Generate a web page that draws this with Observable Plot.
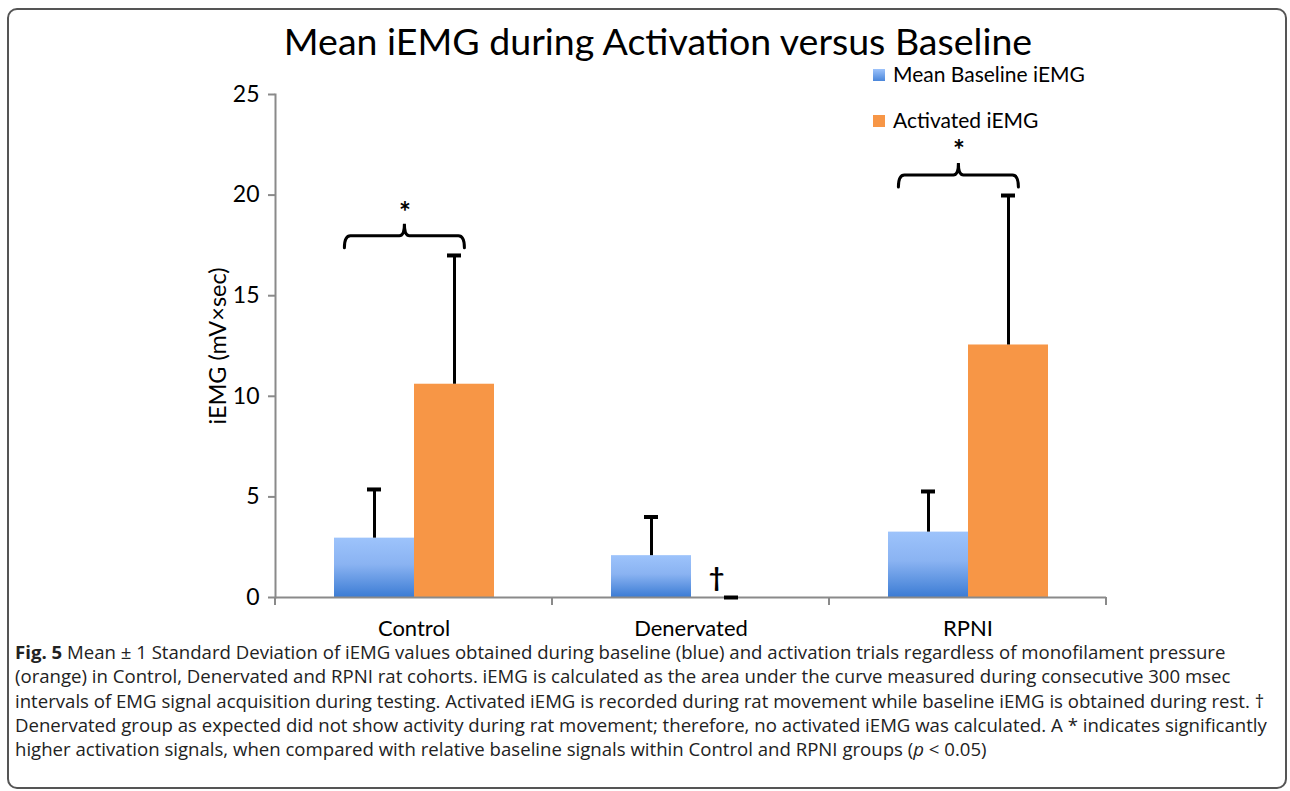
<!DOCTYPE html>
<html>
<head>
<meta charset="utf-8">
<script src="https://cdn.jsdelivr.net/npm/d3@7"></script>
<script src="https://cdn.jsdelivr.net/npm/@observablehq/plot@0.6"></script>
<style>
  html, body { margin: 0; padding: 0; background: #fff; }
  #fig { position: relative; width: 1290px; height: 791px; overflow: hidden; font-family: Lato, "Open Sans", sans-serif; }
  #box { position: absolute; left: 7px; top: 8px; width: 1276px; height: 777px; border: 2px solid #555; border-radius: 10px; }
  #title { position: absolute; left: 0; top: 18px; width: 1316px; text-align: center; font-size: 37.5px; color: #000; white-space: nowrap; }
  #legend { position: absolute; left: 873px; top: 63px; font-size: 21px; color: #000; }
  .li { position: relative; height: 46px; white-space: nowrap; }
  .sw { position: absolute; left: 0; top: 6px; width: 12px; height: 12px; }
  .lt { position: absolute; left: 20px; top: -1px; line-height: 24px; }
  #chart { position: absolute; left: 0; top: 0; }
  #caption { position: absolute; left: 15px; top: 640px; font-family: "Open Sans", sans-serif; font-size: 18.6px; line-height: 24.3px; color: #222; white-space: nowrap; }
</style>
</head>
<body>
<div id="fig">
  <div id="box"></div>
  <div id="chart"></div>
  <div id="title"></div>
  <div id="legend"></div>
  <div id="caption"></div>
</div>
<script>
const titleText = "Mean iEMG during Activation versus Baseline";
const groups = ["Control", "Denervated", "RPNI"];
const series = ["Mean Baseline iEMG", "Activated iEMG"];
const seriesColors = ["url(#blueGrad)", "#F79646"];
const baselineMean = [2.95, 2.08, 3.25];
const baselineSD = [2.42, 1.92, 2.02];
const activatedMean = [10.6, 0, 12.55];
const activatedSD = [6.4, 0, 7.43];
const yTicks = [0, 5, 10, 15, 20, 25];
const yLabel = "iEMG (mV×sec)";
const bracketGroups = ["Control", "RPNI"];
const bracketY = [17.95, 20.97];
const starY = [19.1, 22.2];
const daggerGroup = "Denervated";
const daggerY = 0.95;
const captionLines = [
  "<b>Fig. 5</b> Mean ± 1 Standard Deviation of iEMG values obtained during baseline (blue) and activation trials regardless of monofilament pressure",
  "(orange) in Control, Denervated and RPNI rat cohorts. iEMG is calculated as the area under the curve measured during consecutive 300 msec",
  "intervals of EMG signal acquisition during testing. Activated iEMG is recorded during rat movement while baseline iEMG is obtained during rest. †",
  "Denervated group as expected did not show activity during rat movement; therefore, no activated iEMG was calculated. A * indicates significantly",
  "higher activation signals, when compared with relative baseline signals within Control and RPNI groups (<i>p</i> &lt; 0.05)"
];

const data = [];
groups.forEach((g, i) => {
  data.push({group: g, series: series[0], value: baselineMean[i], sd: baselineSD[i]});
  data.push({group: g, series: series[1], value: activatedMean[i], sd: activatedSD[i]});
});
const brackets = bracketGroups.map((g, i) => ({group: g, y: bracketY[i], star: starY[i]}));

function bandwidthOf(x) { return typeof x.bandwidth === "function" ? x.bandwidth() : 80; }

function bracketRender(index, scales, values) {
  const x = scales.x;
  const bw = bandwidthOf(x);
  const g = d3.create("svg:g");
  for (const i of index) {
    const y0 = values.y[i];
    const x0 = x(series[0]) + 0.13 * bw;
    const x1 = x(series[1]) + 0.63 * bw;
    const xm = (x0 + x1) / 2;
    const r = 6, h = 12, t = 12;
    const p = `M${x0},${y0 + h} Q${x0},${y0} ${x0 + r},${y0} L${xm - 5},${y0} Q${xm},${y0} ${xm},${y0 - t} Q${xm},${y0} ${xm + 5},${y0} L${x1 - r},${y0} Q${x1},${y0} ${x1},${y0 + h}`;
    g.append("path").attr("d", p).attr("fill", "none").attr("stroke", "#000").attr("stroke-width", 3).attr("stroke-linecap", "round");
  }
  return g.node();
}

// category boundary tick marks under the x axis line
function boundaryTicks(index, scales, values) {
  const x = scales.x;
  const g = d3.create("svg:g");
  const r = typeof x.range === "function" ? x.range() : null;
  if (!r) return g.node();
  for (const i of index) {
    const y0 = values.y[i];
    for (const xe of r) {
      g.append("line").attr("x1", xe).attr("x2", xe).attr("y1", y0).attr("y2", y0 + 8)
        .attr("stroke", "#8a8a8a").attr("stroke-width", 2);
    }
  }
  return g.node();
}

const chart = Plot.plot({
  width: 1290,
  height: 660,
  marginTop: 94,
  marginBottom: 63,
  marginLeft: 275,
  marginRight: 184,
  style: {fontFamily: "Lato, 'Open Sans', sans-serif", color: "#000", background: "transparent", overflow: "visible"},
  fx: {domain: groups, padding: 0, label: null},
  x: {domain: series, paddingInner: 0, paddingOuter: 0.731, axis: null},
  y: {domain: [0, 25], axis: null},
  color: {domain: series, range: seriesColors},
  marks: [
    Plot.axisFx({anchor: "bottom", fontSize: 22, tickSize: 0, tickPadding: 23, label: null, fill: "#000"}),
    Plot.axisY({ticks: yTicks, tickSize: 7, tickPadding: 9, fontSize: 23, stroke: "#8a8a8a", strokeWidth: 2, fill: "#000",
      label: yLabel, labelAnchor: "center", labelArrow: "none", labelOffset: 66, tickFormat: d => String(d)}),
    Plot.frame({anchor: "left", facetAnchor: "left", stroke: "#8a8a8a", strokeWidth: 2}),
    Plot.barY(data, {fx: "group", x: "series", y: "value", fill: "series"}),
    Plot.ruleY([0], {stroke: "#8a8a8a", strokeWidth: 2}),
    Plot.ruleY([0], {stroke: "#8a8a8a", render: boundaryTicks}),
    Plot.ruleX(data, {fx: "group", x: "series", y1: "value", y2: d => d.value + d.sd, stroke: "#000", strokeWidth: 3}),
    Plot.tickY(data, {fx: "group", x: "series", y: d => d.value + d.sd, stroke: "#000", strokeWidth: 4, insetLeft: 33, insetRight: 33}),
    Plot.ruleY(brackets, {fx: "group", y: "y", stroke: "#000", strokeWidth: 3, render: bracketRender}),
    Plot.text(brackets, {fx: "group", y: "star", text: () => "*", dx: -9, fontSize: 28, fontWeight: "bold", fill: "#000"}),
    Plot.text([{group: daggerGroup, series: series[1], y: daggerY}], {fx: "group", x: "series", y: "y", text: () => "†", dx: -15, fontSize: 27, fontWeight: "bold", fill: "#000"})
  ]
});

const svg = d3.select(chart.tagName.toLowerCase() === "svg" ? chart : chart.querySelector("svg"));
svg.selectAll('[aria-label="y-axis label"]').attr("font-size", 23.5).selectAll("text").style("font-size", "23.5px");
const defs = svg.insert("defs", ":first-child");
const grad = defs.append("linearGradient").attr("id", "blueGrad").attr("x1", 0).attr("y1", 0).attr("x2", 0).attr("y2", 1);
grad.append("stop").attr("offset", "0%").attr("stop-color", "#9DC3FB");
grad.append("stop").attr("offset", "45%").attr("stop-color", "#8AB3F2");
grad.append("stop").attr("offset", "100%").attr("stop-color", "#3C7CD4");
document.getElementById("chart").appendChild(chart);

document.getElementById("title").textContent = titleText;
const legend = document.getElementById("legend");
series.forEach((s, i) => {
  const row = document.createElement("div");
  row.className = "li";
  const sw = document.createElement("div");
  sw.className = "sw";
  sw.style.background = i === 0 ? "linear-gradient(#9DC3FB, #4A86DA)" : seriesColors[i];
  const t = document.createElement("div");
  t.className = "lt";
  t.textContent = s;
  row.appendChild(sw); row.appendChild(t);
  legend.appendChild(row);
});
document.getElementById("caption").innerHTML = captionLines.join("<br>");
</script>
</body>
</html>
